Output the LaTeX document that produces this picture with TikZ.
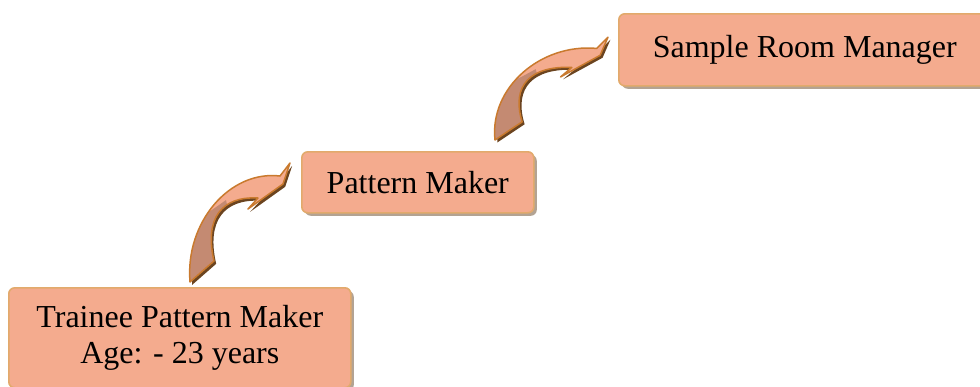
\documentclass[tikz,border=0pt]{standalone}
\usepackage{fontspec}
\setmainfont{Liberation Serif}
\usetikzlibrary{shadows}
\definecolor{boxfill}{HTML}{F4AB8E}
\definecolor{boxline}{HTML}{E2AA6C}
\definecolor{boxshadow}{HTML}{B3A393}
\definecolor{arrlight}{HTML}{F4AB8E}
\definecolor{arrdark}{HTML}{C48A72}
\definecolor{arrline}{HTML}{C97A2E}
\definecolor{arrshadow}{HTML}{6B4420}
\tikzset{
  stagebox/.style={draw=boxline, line width=1.6pt, fill=boxfill, rounded corners=6pt,
    inner sep=0pt, align=center, font=\fontsize{32}{36}\selectfont,
    drop shadow={shadow xshift=3pt, shadow yshift=-3pt, fill=boxshadow, opacity=1}},
  arrowshape/.pic={
    \def\arrpath{(100,-119) -- (93,-98) -- (58,-73) -- (68,-84)
      .. controls (32,-86) and (14,-64) .. (24,-21) -- (0,0)
      .. controls (-5,-60) and (40,-112) .. (90,-106) -- cycle}
    \fill[arrshadow, shift={(2.2,2.8)}] \arrpath;
    \fill[arrlight] \arrpath;
    \begin{scope}
      \clip \arrpath;
      \fill[arrdark] (-30,30) -- (-30,-62) -- (12,-66) .. controls (22,-72) .. (36,-82) -- (60,30) -- cycle;
    \end{scope}
    \draw[arrline, line width=1.5pt, line join=round] \arrpath;
  }
}
\begin{document}
\begin{tikzpicture}[x=1pt, y=-1pt]
\useasboundingbox (0,0) rectangle (980,386);
\node[stagebox, minimum width=342pt, minimum height=100pt, anchor=north west] (trainee) at (8,287)
  {Trainee Pattern Maker\\Age: - 23 years};
\node[stagebox, minimum width=232pt, minimum height=61pt, anchor=north west] (pattern) at (301,151)
  {Pattern Maker};
\node[stagebox, minimum width=372pt, minimum height=72pt, anchor=north west] (manager) at (618,13)
  {Sample Room Manager};
\coordinate (a1) at (190,282);
\coordinate (a2) at (495,140);
\pic at (a1) {arrowshape};
\pic[xscale=1.13, yscale=0.864] at (a2) {arrowshape};
\end{tikzpicture}
\end{document}
